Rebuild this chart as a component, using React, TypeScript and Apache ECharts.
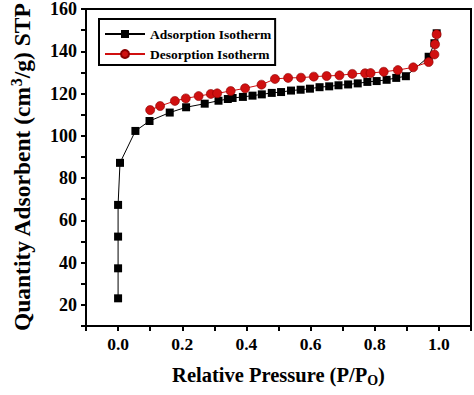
import React, { useEffect, useRef } from "react";
import * as echarts from "echarts";

const adsorptionP = [0.0, 0.0, 0.0, 0.0, 0.006, 0.054, 0.098, 0.161, 0.212, 0.27, 0.313, 0.342, 0.357, 0.389, 0.419, 0.448, 0.479, 0.508, 0.539, 0.569, 0.598, 0.628, 0.658, 0.687, 0.717, 0.747, 0.777, 0.806, 0.837, 0.867, 0.897, 0.968, 0.986, 0.993];
const adsorptionQ = [23.1, 37.3, 52.3, 67.3, 87.2, 102.3, 107, 111, 113.5, 115.2, 116.6, 117.4, 117.9, 118.4, 119, 119.6, 120.3, 120.7, 121.4, 121.8, 122.3, 123, 123.4, 123.9, 124.3, 124.8, 125.5, 125.9, 126.5, 127.4, 128.2, 137.4, 143.8, 148.5];
const desorptionP = [0.1, 0.131, 0.177, 0.211, 0.251, 0.289, 0.309, 0.351, 0.396, 0.447, 0.489, 0.53, 0.57, 0.61, 0.65, 0.69, 0.73, 0.77, 0.787, 0.828, 0.872, 0.92, 0.968, 0.986, 0.988, 0.993];
const desorptionQ = [112.2, 114.1, 116.5, 117.7, 118.8, 119.8, 120.1, 121.2, 122.5, 124.2, 126.9, 127.4, 127.5, 128, 128.3, 128.6, 129.3, 129.6, 129.7, 130.3, 131.1, 132.4, 134.9, 138.5, 143.3, 148];
const seriesNames = ["Adsorption Isotherm", "Desorption Isotherm"];

const FONT = "'Liberation Serif', 'Times New Roman', serif";

export default function App() {
  const ref = useRef<HTMLDivElement>(null);
  useEffect(() => {
    if (!ref.current) return;
    const chart = echarts.init(ref.current, undefined, { renderer: "svg" });
    const ads = adsorptionP.map((p, i) => [p, adsorptionQ[i]]);
    const des = desorptionP.map((p, i) => [p, desorptionQ[i]]);
    chart.setOption({
      animation: false,
      backgroundColor: "#fff",
      grid: {
        left: 81,
        right: 2,
        top: 9,
        bottom: 69,
        show: true,
        borderColor: "#000",
        borderWidth: 2,
        backgroundColor: "transparent",
      },
      legend: {
        orient: "vertical",
        left: 99,
        top: 19,
        data: seriesNames,
        borderColor: "#000",
        borderWidth: 2,
        padding: [8, 4, 4, 5],
        itemWidth: 40,
        itemHeight: 10,
        itemGap: 6,
        textStyle: { fontFamily: FONT, fontWeight: "bold", fontSize: 13.5, color: "#000" },
      },
      xAxis: {
        type: "value",
        min: -0.1,
        max: 1.1,
        interval: 0.1,
        name: "Relative Pressure (P/P{sub|O})",
        nameLocation: "middle",
        nameGap: 37,
        nameTextStyle: {
          fontFamily: FONT,
          fontWeight: "bold",
          fontSize: 20.5,
          color: "#000",
          verticalAlign: "top",
          rich: {
            sub: { fontFamily: FONT, fontWeight: "bold", fontSize: 14, color: "#000", padding: [10, 0, 0, 0] },
          },
        },
        splitLine: { show: false },
        axisLine: { show: true, onZero: false, lineStyle: { color: "#000", width: 2 } },
        axisTick: { show: true, inside: false, length: 5, lineStyle: { color: "#000", width: 2 } },
        axisLabel: {
          margin: 9,
          fontFamily: FONT,
          fontWeight: "bold",
          fontSize: 17.5,
          color: "#000",
          formatter: (v: number) => {
            const r = Math.round(v * 10);
            if (r < 0 || r > 10 || r % 2 !== 0) return "";
            return (r / 10).toFixed(1);
          },
        },
      },
      yAxis: {
        type: "value",
        min: 10,
        max: 160,
        interval: 10,
        name: "Quantity Adsorbent (cm{sup|3}/g) STP",
        nameLocation: "middle",
        nameGap: 51,
        nameTextStyle: {
          fontFamily: FONT,
          fontWeight: "bold",
          fontSize: 23.5,
          color: "#000",
          rich: {
            sup: { fontFamily: FONT, fontWeight: "bold", fontSize: 16, color: "#000", padding: [0, 0, 11, 0] },
          },
        },
        splitLine: { show: false },
        axisLine: { show: true, onZero: false, lineStyle: { color: "#000", width: 2 } },
        axisTick: { show: true, inside: false, length: 5, lineStyle: { color: "#000", width: 2 } },
        axisLabel: {
          margin: 9,
          fontFamily: FONT,
          fontWeight: "bold",
          fontSize: 18,
          color: "#000",
          formatter: (v: number) => (Math.round(v) % 20 === 0 ? String(Math.round(v)) : ""),
        },
      },
      series: [
        {
          name: seriesNames[0],
          type: "line",
          data: ads,
          symbol: "rect",
          symbolSize: 8,
          itemStyle: { color: "#000" },
          lineStyle: { color: "#000", width: 1 },
          z: 2,
        },
        {
          name: seriesNames[1],
          type: "line",
          data: des,
          symbol: "circle",
          symbolSize: 9,
          itemStyle: { color: "#d01010", borderColor: "#8a0000", borderWidth: 0.6 },
          lineStyle: { color: "#d01010", width: 1 },
          z: 3,
        },
      ],
    });
    return () => chart.dispose();
  }, []);
  return <div ref={ref} style={{ width: 474, height: 395, position: "absolute", left: 0, top: 0 }} />;
}
